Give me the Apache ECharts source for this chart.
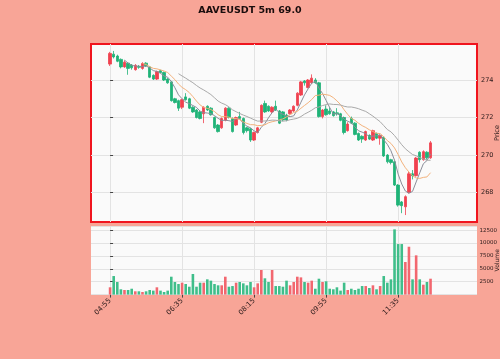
<!DOCTYPE html>
<html>
<head>
<meta charset="utf-8">
<script src="https://cdn.jsdelivr.net/npm/echarts@6/dist/echarts.min.js"></script>
<style>
  html, body { margin: 0; padding: 0; background: #f8a597; }
  #main { width: 500px; height: 359px; }
</style>
</head>
<body>
<div id="main"></div>
<script>
var chartDom = document.getElementById('main');
var myChart = echarts.init(chartDom);
var option;

// 5m candles, index 0 = 04:55
var opens = [274.85,275.38,275.28,275.1,274.7,274.9,274.8,274.55,274.72,274.62,
  274.9,274.7,274.25,274.05,274.5,274.4,274.05,273.9,273.0,272.9,
  272.55,273.1,273.0,272.55,272.4,272.3,272.2,272.6,272.5,272.0,
  271.6,271.45,271.85,272.5,271.95,271.6,272.05,271.95,271.45,271.4,
  270.8,271.2,271.75,272.75,272.6,272.3,272.6,272.35,272.3,272.13,
  272.2,272.35,272.65,273.2,273.95,273.6,273.85,274.0,273.85,272.05,
  272.45,272.35,272.3,272.25,272.2,272.0,271.3,271.95,271.7,271.15,
  271.0,270.8,271.05,270.8,271.15,270.9,270.95,270.0,269.75,269.64,
  268.4,267.5,267.24,268.0,269.0,268.9,270.15,269.75,270.15,269.85];
var closes = [275.42,275.23,275.0,274.7,274.95,274.62,274.65,274.78,274.68,274.88,
  274.75,274.15,274.05,274.45,274.4,274.0,273.85,272.9,272.8,272.5,
  272.95,272.95,272.5,272.3,272.0,271.95,272.55,272.4,272.15,271.45,
  271.25,271.95,272.5,272.0,271.25,272.0,271.95,271.2,271.3,270.8,
  271.2,271.45,272.65,272.3,272.35,272.55,272.4,271.7,271.87,271.87,
  272.4,272.6,273.3,273.9,273.85,274.0,274.1,273.85,272.05,272.4,
  272.15,272.2,272.1,272.2,271.85,271.2,271.65,271.7,271.1,270.8,
  270.85,271.25,270.85,271.3,270.9,271.05,269.95,269.64,269.6,268.4,
  267.33,267.3,267.78,269.0,268.9,269.84,269.75,270.18,269.85,270.65];
var highs = [275.5,275.55,275.35,275.15,275.05,274.95,274.85,274.85,274.8,274.95,
  274.95,274.75,274.3,274.5,274.55,274.45,274.1,273.95,273.05,272.95,
  273.0,273.3,273.05,272.6,272.45,272.35,272.6,272.65,272.55,272.05,
  271.65,272.0,272.55,272.55,272.0,272.05,272.3,272.0,271.5,271.45,
  271.25,271.5,272.7,272.9,272.65,272.6,272.9,272.4,272.35,272.2,
  272.45,272.65,273.35,273.95,274.0,274.05,274.3,274.1,273.9,272.45,
  272.65,272.55,272.35,272.5,272.25,272.05,271.75,272.05,271.75,271.2,
  271.05,271.3,271.1,271.35,271.2,271.1,271.0,270.05,269.8,269.7,
  268.45,267.55,267.85,269.1,269.2,269.9,270.2,270.25,270.2,270.75];
var lows = [274.75,275.15,274.95,274.62,274.65,274.28,274.55,274.5,274.6,274.55,
  274.7,274.1,274.0,274.0,274.35,273.95,273.8,272.85,272.75,272.35,
  272.45,272.9,272.45,272.25,271.95,271.9,271.7,272.35,272.1,271.4,
  271.2,271.4,271.8,271.95,271.2,271.55,271.9,271.1,271.2,270.7,
  270.75,271.15,271.7,272.25,272.3,272.25,272.35,271.65,271.8,271.8,
  272.15,272.3,272.6,273.15,273.7,273.55,273.8,273.8,272.0,271.95,
  272.1,272.15,272.05,272.1,271.8,271.1,271.25,271.65,271.05,270.75,
  270.65,270.75,270.8,270.75,270.85,270.55,269.9,269.55,269.5,268.35,
  267.25,266.9,266.8,267.95,268.7,268.85,269.6,269.7,269.75,269.8];
var volumes = [1415,3600,2440,1030,890,890,1140,640,640,500,
  640,890,770,1415,770,500,770,3470,2440,2050,
  2310,2050,1530,3990,1530,2310,2310,2960,2700,2050,
  1800,1800,3470,1530,1660,2310,2440,2180,1800,2440,
  1415,2180,4770,3160,2440,4770,1660,1660,1530,2700,
  1800,2440,3470,3340,2440,2310,2700,1140,3080,2440,
  2580,1140,1030,1415,770,2310,890,1140,890,1140,
  1660,1660,1280,1800,1030,1660,3600,2310,2960,12650,
  9800,9800,6320,9280,2960,7610,2960,1920,2440,3080];

var tickPos = [0, 20, 40, 60, 80];
var tickText = ['04:55', '06:35', '08:15', '09:55', '11:35'];
var priceTicks = [268, 270, 272, 274];
var maPeriods = [5, 10, 20];
var maColors = ['#8a8d99', '#f3b27c', '#a9a9a9'];

var upColor = '#f0414f', downColor = '#1fb377';
var upVol = '#f2676f', downVol = '#3fbe8a';

var candles = [], vols = [];
for (var i = 0; i < closes.length; i++) {
    candles.push([i, opens[i], closes[i], lows[i], highs[i]]);
    vols.push({
        value: [i, volumes[i]],
        itemStyle: {color: closes[i] >= opens[i] ? upVol : downVol}
    });
}

function movingAvg(n) {
    var out = [];
    for (var i = n - 1; i < closes.length; i++) {
        var s = 0;
        for (var j = i - n + 1; j <= i; j++) s += closes[j];
        out.push([i, s / n]);
    }
    return out;
}

var font = 'DejaVu Sans';
var txt = '#2a1a1a';

var maSeries = maPeriods.map(function (p, k) {
    return {
        name: 'MA' + p,
        type: 'line',
        xAxisIndex: 0,
        yAxisIndex: 0,
        data: movingAvg(p),
        showSymbol: false,
        silent: true,
        lineStyle: {width: 1, color: maColors[k]},
        z: 3
    };
});

option = {
    backgroundColor: '#f8a597',
    animation: false,
    title: {
        text: 'AAVEUSDT 5m 69.0',
        left: 'center',
        top: 1,
        textStyle: {fontFamily: font, fontSize: 9.5, fontWeight: 'bold', color: '#1a0d0d'}
    },
    grid: [
        {left: 91, top: 44, width: 386, height: 178, show: true, outerBoundsMode: 'none',
            backgroundColor: '#fafafa', borderColor: '#f0141e', borderWidth: 2},
        {left: 91, top: 226, width: 386, height: 68.6, show: true, outerBoundsMode: 'none',
            backgroundColor: '#fafafa', borderWidth: 0}
    ],
    xAxis: [
        {type: 'value', gridIndex: 0, min: -5.3, max: 101.9,
            axisLine: {show: false},
            axisTick: {show: false, customValues: tickPos},
            axisLabel: {show: false, customValues: tickPos},
            splitLine: {show: true, lineStyle: {color: '#e3e3e3', width: 1}}},
        {type: 'value', gridIndex: 1, min: -5.3, max: 101.9,
            axisLine: {show: false},
            axisTick: {show: true, length: 3, customValues: tickPos, lineStyle: {color: '#444'}},
            axisLabel: {
                customValues: tickPos, rotate: 45, fontSize: 7, fontFamily: font, color: txt, margin: 5,
                formatter: function (v) { return tickText[tickPos.indexOf(v)]; }
            },
            splitLine: {show: true, lineStyle: {color: '#e3e3e3', width: 1}}}
    ],
    yAxis: [
        {type: 'value', gridIndex: 0, position: 'right', min: 266.43, max: 275.92,
            name: 'Price', nameLocation: 'middle', nameGap: 16.5, nameRotate: 90,
            nameMoveOverlap: false,
            nameTextStyle: {fontFamily: font, fontSize: 6.5, color: txt},
            axisLine: {show: false},
            axisTick: {show: true, length: 3, customValues: priceTicks, lineStyle: {color: '#444'}},
            axisLabel: {customValues: priceTicks, fontSize: 6.5, fontFamily: font, color: txt, margin: 4},
            splitLine: {show: true, lineStyle: {color: '#e3e3e3', width: 1}}},
        {type: 'value', gridIndex: 1, position: 'right', min: 0, max: 13300, interval: 2500,
            name: 'Volume', nameLocation: 'middle', nameGap: 17.5, nameRotate: 90,
            nameMoveOverlap: false,
            nameTextStyle: {fontFamily: font, fontSize: 6, color: txt},
            axisLine: {show: false},
            axisTick: {show: true, length: 3, lineStyle: {color: '#444'}},
            axisLabel: {fontSize: 5.5, fontFamily: font, color: txt, margin: 2.5,
                showMinLabel: false, showMaxLabel: false,
                formatter: function (v) { return String(v); }},
            splitLine: {show: true, lineStyle: {color: '#e3e3e3', width: 1}}}
    ],
    series: [
        {
            name: 'AAVEUSDT',
            type: 'candlestick',
            xAxisIndex: 0,
            yAxisIndex: 0,
            data: candles,
            encode: {x: 0, y: [1, 2, 3, 4]},
            barWidth: 2.8,
            itemStyle: {
                color: upColor, color0: downColor,
                borderColor: upColor, borderColor0: downColor, borderWidth: 0.8
            },
            z: 2
        },
        {
            name: 'Volume',
            type: 'bar',
            xAxisIndex: 1,
            yAxisIndex: 1,
            data: vols,
            barWidth: 2.6
        }
    ].concat(maSeries)
};

option && myChart.setOption(option);
</script>
</body>
</html>
